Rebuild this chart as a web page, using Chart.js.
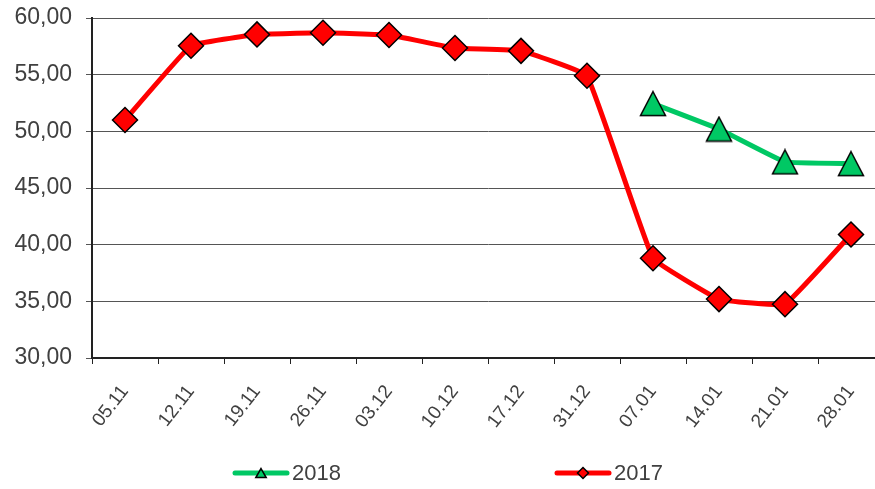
<!DOCTYPE html>
<html lang="pt-br">
<head>
    <meta charset="UTF-8">
    <title>Gráfico</title>
    <script src="https://cdn.jsdelivr.net/npm/chart.js@4"></script>
    <style>
        html, body { margin: 0; padding: 0; background: #fff; overflow: hidden; }
        #grafico { display: block; }
    </style>
</head>
<body>

    <!-- mais largo que a janela: o original corta a área do gráfico na direita -->
    <canvas id="grafico" width="902" height="489"></canvas>

<script>

    // dados
    const semanas = ['05.11', '12.11', '19.11', '26.11', '03.12', '10.12', '17.12', '31.12', '07.01', '14.01', '21.01', '28.01'];
    const valores2018 = [null, null, null, null, null, null, null, null, 52.45, 50.2, 47.3, 47.15];
    const valores2017 = [51.0, 57.55, 58.55, 58.7, 58.5, 57.35, 57.1, 54.9, 38.8, 35.2, 34.75, 40.9];
    const ticksY = [30, 35, 40, 45, 50, 55, 60];

    const fonte = '"Liberation Sans", Arial, sans-serif';
    const corTexto = '#404040';

    // triângulo do marcador (centrado na caixa, como no original)
    function criarTriangulo(cor) {
        const c = document.createElement('canvas');
        c.width = 28;
        c.height = 27;
        const ctx = c.getContext('2d');
        ctx.beginPath();
        ctx.moveTo(14, 1.5);
        ctx.lineTo(26.5, 25.5);
        ctx.lineTo(1.5, 25.5);
        ctx.closePath();
        ctx.fillStyle = cor;
        ctx.fill();
        ctx.lineWidth = 1.5;
        ctx.strokeStyle = '#000';
        ctx.stroke();
        return c;
    }

    const verde = '#00c864';
    const vermelho = '#ff0000';

    // legenda desenhada à mão (linha + marcador + texto)
    const legendaFixa = {
        id: 'legendaFixa',
        afterDraw(chart) {
            const ctx = chart.ctx;
            const posX = [233, 555];
            const y = 473;
            chart.data.datasets.forEach((ds, i) => {
                const x = posX[i];
                ctx.save();
                ctx.strokeStyle = ds.borderColor;
                ctx.lineWidth = 5;
                ctx.lineCap = 'round';
                ctx.beginPath();
                ctx.moveTo(x + 2, y);
                ctx.lineTo(x + 54, y);
                ctx.stroke();

                ctx.fillStyle = ds.legendaCor;
                ctx.strokeStyle = '#000';
                ctx.lineWidth = 1.5;
                Chart.helpers.drawPoint(ctx, {
                    pointStyle: ds.legendaMarcador,
                    radius: ds.legendaRaio,
                    borderWidth: 1.5,
                    rotation: 0
                }, x + 28, y + (ds.legendaMarcador === 'triangle' ? 1.5 : 0));

                ctx.font = '22px ' + fonte;
                ctx.fillStyle = corTexto;
                ctx.textBaseline = 'middle';
                ctx.fillText(ds.label, x + 59, y + 1);
                ctx.restore();
            });
        }
    };

    const config = {
        type: 'line',
        data: {
            labels: semanas,
            datasets: [{
                label: '2018',
                data: valores2018,
                borderColor: verde,
                borderWidth: 5,
                tension: 0.08,
                pointStyle: criarTriangulo(verde),
                pointRadius: 13,
                legendaMarcador: 'triangle',
                legendaRaio: 6,
                legendaCor: verde
            }, {
                label: '2017',
                data: valores2017,
                borderColor: vermelho,
                borderWidth: 5,
                tension: 0.08,
                pointStyle: 'rectRot',
                pointRadius: 12.5,
                pointBackgroundColor: vermelho,
                pointBorderColor: '#000',
                pointBorderWidth: 1.5,
                legendaMarcador: 'rectRot',
                legendaRaio: 5.5,
                legendaCor: vermelho
            }]
        },
        options: {
            responsive: false,
            animation: false,
            events: [],
            layout: {
                padding: { left: 0, right: 4, top: 18, bottom: 31 }
            },
            plugins: {
                legend: { display: false },
                tooltip: { enabled: false }
            },
            scales: {
                x: {
                    offset: true,
                    afterFit: (eixo) => {
                        eixo.height = 100;
                        eixo.paddingLeft = 0;
                        eixo.paddingRight = 0;
                    },
                    grid: {
                        offset: true,
                        drawOnChartArea: false,
                        drawTicks: true,
                        tickLength: 6,
                        color: '#222'
                    },
                    border: { color: '#222', width: 2 },
                    ticks: {
                        autoSkip: false,
                        minRotation: 52,
                        maxRotation: 52,
                        padding: 17,
                        color: corTexto,
                        font: { family: fonte, size: 19 }
                    }
                },
                y: {
                    min: ticksY[0],
                    max: ticksY[ticksY.length - 1],
                    afterFit: (eixo) => {
                        eixo.width = 92;
                        eixo.paddingTop = 0;
                        eixo.paddingBottom = 0;
                    },
                    grid: {
                        color: '#555',
                        lineWidth: 1,
                        tickLength: 6
                    },
                    border: { color: '#222', width: 2 },
                    ticks: {
                        stepSize: ticksY[1] - ticksY[0],
                        padding: 14,
                        color: corTexto,
                        font: { family: fonte, size: 23 },
                        callback: (valor) => valor.toFixed(2).replace('.', ',')
                    }
                }
            }
        },
        plugins: [legendaFixa]
    };

    new Chart(document.getElementById('grafico'), config);

</script>
</body>
</html>
